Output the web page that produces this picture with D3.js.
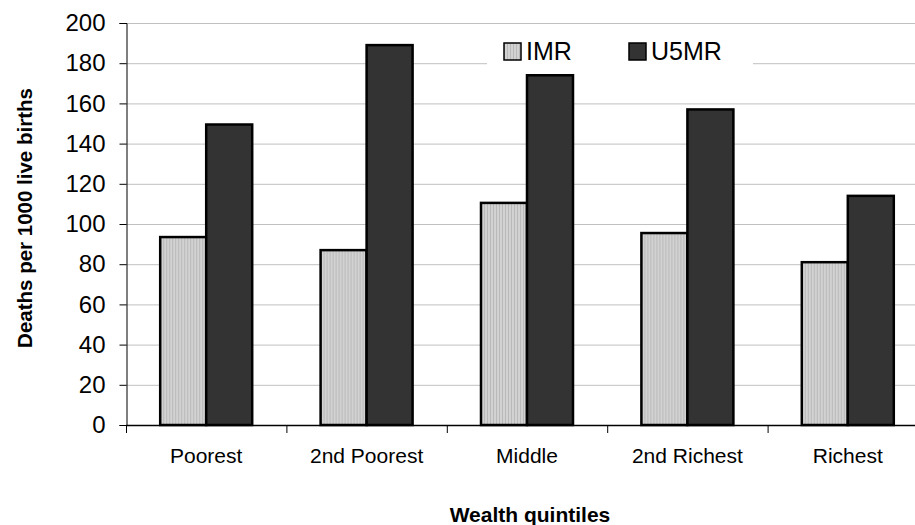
<!DOCTYPE html>
<html>
<head>
<meta charset="utf-8">
<script src="https://cdn.jsdelivr.net/npm/d3@7"></script>
<style>
  body { margin: 0; background: #fff; }
  svg { display: block; font-family: "Liberation Sans", Arial, sans-serif; }
</style>
</head>
<body>
<svg id="chart" width="915" height="525"></svg>
<script>
// Mortality rates by household wealth quintile
const categories = ["Poorest", "2nd Poorest", "Middle", "2nd Richest", "Richest"];
const seriesNames = ["IMR", "U5MR"];
const imrValues = [93.5, 87, 110.5, 95.5, 81];
const u5mrValues = [149.5, 189, 174, 157, 114];
const yTicks = [0, 20, 40, 60, 80, 100, 120, 140, 160, 180, 200];

const svg = d3.select("#chart");
const plotLeft = 126, plotTop = 23, plotBottom = 425, plotRight = 928;

const x = d3.scaleBand().domain(categories).range([plotLeft, plotRight]).paddingInner(0).paddingOuter(0);
const y = d3.scaleLinear().domain([0, 200]).range([plotBottom, plotTop]);
const sub = d3.scaleBand().domain(seriesNames).range([0, 92]);

// Striped fill for the IMR bars
const defs = svg.append("defs");
const pat = defs.append("pattern").attr("id", "stripes")
  .attr("patternUnits", "userSpaceOnUse").attr("width", 3).attr("height", 3);
pat.append("rect").attr("width", 3).attr("height", 3).attr("fill", "#d2d2d2");
pat.append("rect").attr("width", 1).attr("height", 3).attr("fill", "#b9b9b9");

// Gridlines
svg.append("g").selectAll("line").data(yTicks.slice(1)).join("line")
  .attr("x1", plotLeft).attr("x2", 915)
  .attr("y1", d => y(d) + 0.5).attr("y2", d => y(d) + 0.5)
  .attr("stroke", "#c0c0c0").attr("stroke-width", 1);

// Y axis
const yAxis = svg.append("g").attr("transform", `translate(${plotLeft + 0.5},0)`)
  .call(d3.axisLeft(y).tickValues(yTicks).tickSize(7).tickPadding(14));
yAxis.select(".domain").attr("stroke", "#000");
yAxis.selectAll(".tick line").attr("stroke", "#000");
yAxis.selectAll(".tick text").attr("font-size", 24).attr("fill", "#000")
  .attr("font-family", "Liberation Sans, Arial, sans-serif");

// Bars
const seriesData = [imrValues, u5mrValues];
const fills = ["url(#stripes)", "#333333"];
const groups = svg.append("g").selectAll("g").data(categories).join("g")
  .attr("transform", d => `translate(${x(d) + x.bandwidth() / 2 - 46},0)`);
groups.selectAll("rect").data((c, i) => seriesNames.map((s, k) => ({ s, v: seriesData[k][i], k })))
  .join("rect")
  .attr("x", d => sub(d.s))
  .attr("width", sub.bandwidth())
  .attr("y", d => y(d.v))
  .attr("height", d => plotBottom - y(d.v))
  .attr("fill", d => fills[d.k])
  .attr("stroke", "#000").attr("stroke-width", 2.5);

// X axis baseline and category ticks
svg.append("line").attr("x1", plotLeft).attr("x2", 915)
  .attr("y1", plotBottom + 0.5).attr("y2", plotBottom + 0.5)
  .attr("stroke", "#000").attr("stroke-width", 1.5);
svg.append("g").selectAll("line").data(d3.range(categories.length + 1)).join("line")
  .attr("x1", i => plotLeft + i * x.bandwidth() + 0.5).attr("x2", i => plotLeft + i * x.bandwidth() + 0.5)
  .attr("y1", plotBottom).attr("y2", plotBottom + 8)
  .attr("stroke", "#000");
svg.append("g").selectAll("text").data(categories).join("text")
  .attr("x", d => x(d) + x.bandwidth() / 2)
  .attr("y", 463)
  .attr("text-anchor", "middle")
  .attr("font-size", 21)
  .text(d => d);

// Axis titles
svg.append("text").attr("x", 530).attr("y", 522).attr("text-anchor", "middle")
  .attr("font-size", 21).attr("font-weight", "bold").text("Wealth quintiles");
svg.append("text").attr("transform", "translate(32,218) rotate(-90)")
  .attr("text-anchor", "middle").attr("font-size", 20.5).attr("font-weight", "bold")
  .text("Deaths per 1000 live births");

// Legend
const legend = svg.append("g");
legend.append("rect").attr("x", 487).attr("y", 28).attr("width", 266).attr("height", 40).attr("fill", "#fff");
const items = legend.selectAll("g").data(seriesNames).join("g")
  .attr("transform", (d, i) => `translate(${504 + i * 125},43)`);
items.append("rect").attr("width", 17).attr("height", 17)
  .attr("fill", (d, i) => fills[i]).attr("stroke", "#000").attr("stroke-width", 1.5);
items.append("text").attr("x", 22).attr("y", 17).attr("font-size", 25).text(d => d);
</script>
</body>
</html>
